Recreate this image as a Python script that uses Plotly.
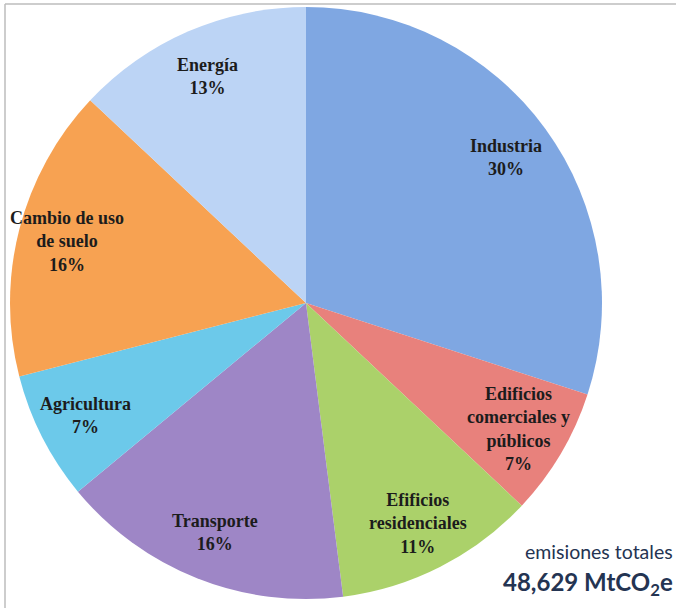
import math
import plotly.graph_objects as go

labels = ["Industria", "Edificios<br>comerciales y<br>públicos", "Efificios<br>residenciales",
          "Transporte", "Agricultura", "Cambio de uso<br>de suelo", "Energía"]
values = [30, 7, 11, 16, 7, 16, 13]
colors = ["#7fa7e2", "#e8817c", "#abd16a", "#9e86c6", "#6cc9ea", "#f7a252", "#bcd4f5"]
total_text = "48,629 MtCO<sub>2</sub>e"

W, H = 676, 608
cx, cy, R = 306, 303, 296  # pie centre and radius in pixels (from top-left)

fig = go.Figure(go.Pie(
    labels=[l.replace("<br>", " ") for l in labels],
    values=values,
    sort=False,
    direction="clockwise",
    rotation=0,
    marker=dict(colors=colors, line=dict(width=0)),
    textinfo="none",
    hoverinfo="label+percent",
    showlegend=False,
    domain=dict(x=[(cx - R) / W, (cx + R) / W], y=[(H - cy - R) / H, (H - cy + R) / H]),
))

tot = sum(values)
cum = 0
annotations = []
for lab, v in zip(labels, values):
    mid = (cum + v / 2) / tot * 2 * math.pi
    cum += v
    f = 0.835
    px = cx + f * R * math.sin(mid)
    py = cy - f * R * math.cos(mid)
    annotations.append(dict(
        x=px / W, y=1 - py / H, xref="paper", yref="paper",
        text=f"<b>{lab}<br>{round(v / tot * 100)}%</b>",
        showarrow=False, align="center", xanchor="center", yanchor="middle",
        font=dict(family="Liberation Serif", size=18, color="#1c1c1c"),
    ))

annotations.append(dict(
    x=675 / W, y=1 - 551 / H, xref="paper", yref="paper", text="emisiones totales",
    showarrow=False, xanchor="right", yanchor="middle",
    font=dict(family="Lato", size=19.5, color="#243452"),
))
annotations.append(dict(
    x=675 / W, y=1 - 583 / H, xref="paper", yref="paper", text=f"<b>{total_text}</b>",
    showarrow=False, xanchor="right", yanchor="middle",
    font=dict(family="Lato", size=24, color="#243452"),
))

fig.update_layout(
    width=W, height=H,
    margin=dict(l=0, r=0, t=0, b=0),
    paper_bgcolor="white",
    plot_bgcolor="white",
    annotations=annotations,
    shapes=[
        dict(type="line", xref="paper", yref="paper", x0=5 / W, x1=1, y0=1 - 4 / H, y1=1 - 4 / H,
             line=dict(color="#bdbdbd", width=1.5)),
        dict(type="line", xref="paper", yref="paper", x0=5 / W, x1=5 / W, y0=0, y1=1 - 4 / H,
             line=dict(color="#bdbdbd", width=1.5)),
    ],
)

fig.write_html("out.html")
